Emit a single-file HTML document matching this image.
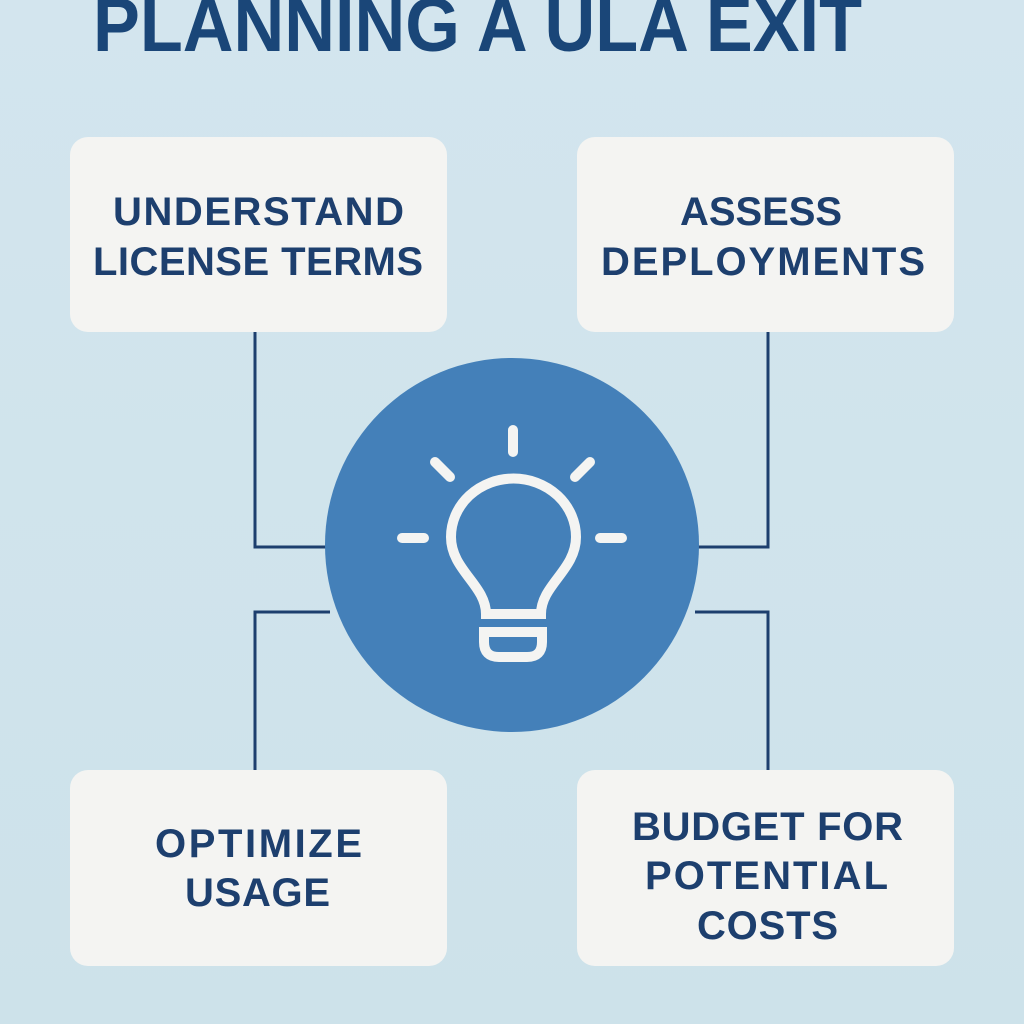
<!DOCTYPE html>
<html><head><meta charset="utf-8"><style>html,body{margin:0;padding:0;background:#cfe3ec}svg{display:block}</style></head>
<body>
<svg width="1024" height="1024" viewBox="0 0 1024 1024" xmlns="http://www.w3.org/2000/svg">
<defs><linearGradient id="bg" x1="0" y1="0" x2="0" y2="1"><stop offset="0" stop-color="#d3e5ee"/><stop offset="1" stop-color="#cde2ea"/></linearGradient></defs>
<rect width="1024" height="1024" fill="url(#bg)"/>
<text x="93" y="51" font-family="Liberation Sans, sans-serif" font-weight="700" font-size="76" fill="#1a4678" textLength="769" lengthAdjust="spacingAndGlyphs">PLANNING A ULA EXIT</text>
<g fill="none" stroke="#1d3f6e" stroke-width="3">
<polyline points="255,332 255,547 330,547"/>
<polyline points="768,332 768,547 695,547"/>
<polyline points="330,612 255,612 255,770"/>
<polyline points="695,612 768,612 768,770"/>
</g>
<g fill="#f4f4f2">
<rect x="70" y="137" width="377" height="195" rx="18"/>
<rect x="577" y="137" width="377" height="195" rx="18"/>
<rect x="70" y="770" width="377" height="196" rx="18"/>
<rect x="577" y="770" width="377" height="196" rx="18"/>
</g>
<circle cx="512" cy="545" r="187" fill="#4480b9"/>
<g fill="none" stroke="#f4f4f2" stroke-width="10" stroke-linecap="round">
<line x1="513" y1="430" x2="513" y2="452"/>
<line x1="435" y1="462" x2="450" y2="477"/>
<line x1="590" y1="462" x2="575" y2="477"/>
<line x1="402" y1="538" x2="424" y2="538"/>
<line x1="600" y1="538" x2="622" y2="538"/>
<path d="M486,614 C486,585 451,570 451,537 A62,58 0 1 1 576,537 C576,570 541,585 541,614 Z"/>
<path d="M484,632 L542,632 L542,642 Q542,657 527,657 L499,657 Q484,657 484,642 Z"/>
</g>
<g font-family="Liberation Sans, sans-serif" font-weight="700" font-size="40" fill="#1d3f6e" lengthAdjust="spacingAndGlyphs">
<text x="113" y="225" textLength="291">UNDERSTAND</text>
<text x="93" y="275" textLength="330">LICENSE TERMS</text>
<text x="680" y="225" textLength="162">ASSESS</text>
<text x="601" y="275" textLength="324">DEPLOYMENTS</text>
<text x="155" y="857" textLength="207">OPTIMIZE</text>
<text x="185" y="906" textLength="145">USAGE</text>
<text x="632" y="840" textLength="271">BUDGET FOR</text>
<text x="645" y="889" textLength="243">POTENTIAL</text>
<text x="697" y="939" textLength="141">COSTS</text>
</g>
</svg>
</body></html>
